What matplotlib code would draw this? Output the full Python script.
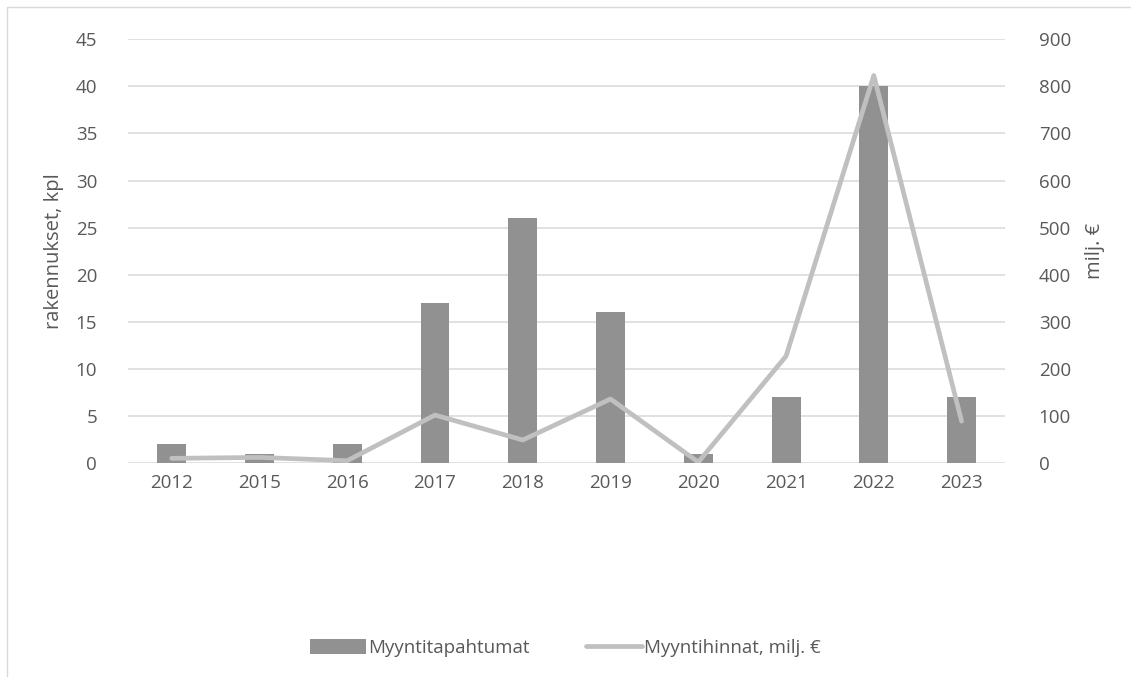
import matplotlib
matplotlib.use("Agg")
import matplotlib.pyplot as plt
from matplotlib.patches import Rectangle
import numpy as np

plt.rcParams['font.family'] = ['Open Sans', 'DejaVu Sans']

years = ['2012', '2015', '2016', '2017', '2018', '2019', '2020', '2021', '2022', '2023']
myyntitapahtumat = [2, 1, 2, 17, 26, 16, 1, 7, 40, 7]
myyntihinnat = [10, 12, 5, 102, 49, 136, 2, 227, 823, 89]

bar_color = '#919191'
line_color = '#c0c0c0'
grid_color = '#d9d9d9'
text_color = '#595959'

fig = plt.figure(figsize=(11.31, 6.77), dpi=100)
ax = fig.add_axes([0.113, 0.316, 0.776, 0.626])
ax2 = ax.twinx()

x = np.arange(len(years))
ax.bar(x, myyntitapahtumat, width=0.33, color=bar_color, zorder=2,
       label='Myyntitapahtumat')
ax2.plot(x, myyntihinnat, color=line_color, linewidth=3.4,
         solid_joinstyle='round', solid_capstyle='round', zorder=3,
         label='Myyntihinnat, milj. €')

ax.set_xlim(-0.5, len(years) - 0.5)
ax.set_ylim(0, 45)
ax.set_yticks(range(0, 46, 5))
ax2.set_ylim(0, 900)
ax2.set_yticks(range(0, 901, 100))
ax.set_xticks(x)
ax.set_xticklabels(years)

ax.grid(axis='y', color=grid_color, linewidth=1.1, zorder=0)
ax.set_axisbelow(True)
ax.set_zorder(ax2.get_zorder() - 1)
ax2.patch.set_visible(False)
ax.patch.set_visible(False)

for a in (ax, ax2):
    for s in a.spines.values():
        s.set_visible(False)
    a.tick_params(axis='both', length=0, labelsize=13.5, colors=text_color)
ax.tick_params(axis='y', pad=22)
ax.tick_params(axis='x', pad=8)
ax2.tick_params(axis='y', pad=24)

ax.set_ylabel('rakennukset, kpl', fontsize=14.5, color=text_color)
ax2.set_ylabel('milj. €', fontsize=14.5, color=text_color)
ax.yaxis.set_label_coords(-0.073, 0.5)
ax2.yaxis.set_label_coords(1.091, 0.5)

h1, l1 = ax.get_legend_handles_labels()
h2, l2 = ax2.get_legend_handles_labels()
fig.legend(h1 + h2, l1 + l2, loc='center', bbox_to_anchor=(0.5, 0.043),
           ncol=2, frameon=False, fontsize=13.5, labelcolor=text_color,
           handlelength=3.0, handleheight=0.9, handletextpad=0.1,
           columnspacing=3.0)

# chart area border
fig.patches.append(Rectangle((7 / 1131, -0.05), 1.1, 1 - 7 / 677 + 0.05,
                             transform=fig.transFigure, fill=False,
                             edgecolor=grid_color, linewidth=1.0))

fig.savefig('out.png', dpi=100)
